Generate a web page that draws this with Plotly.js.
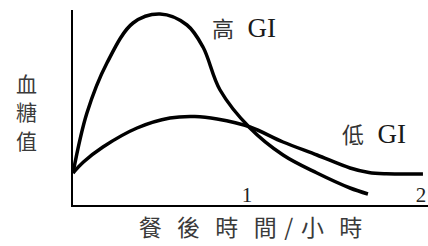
<!DOCTYPE html>
<html><head><meta charset="utf-8">
<script src="https://cdn.plot.ly/plotly-3.0.1.min.js"></script>
<style>html,body{margin:0;padding:0;background:#fff}#chart{width:428px;height:246px}</style>
</head><body><div id="chart"></div>
<script>
const highT = [0, 0.08, 0.195, 0.345, 0.50, 0.655, 0.747, 0.845, 1.017, 1.207, 1.402, 1.592, 1.695];
const highV = [3.2, 9.2, 14.2, 18.2, 19.1, 18.0, 15.8, 11.5, 7.7, 5.0, 3.2, 1.7, 1.1];
const lowT = [0, 0.06, 0.172, 0.368, 0.557, 0.70, 0.828, 1.017, 1.207, 1.402, 1.592, 1.70, 1.80, 2.011];
const lowV = [3.2, 4.3, 5.8, 7.7, 8.7, 8.85, 8.6, 7.8, 6.3, 5.0, 3.7, 3.25, 3.12, 3.1];
const tickVals = [1, 2];
const tickText = ['1', '2'];
const seriesNames = ['高', '低'];
const yLabelChars = ['血', '糖', '值'];

const traces = [
  {x: highT, y: highV, name: seriesNames[0] + ' GI', mode: 'lines', line: {color: '#000', width: 3.5, shape: 'spline', smoothing: 1}, cliponaxis: false},
  {x: lowT, y: lowV, name: seriesNames[1] + ' GI', mode: 'lines', line: {color: '#000', width: 3.5, shape: 'spline', smoothing: 1}, cliponaxis: false}
];
const serif = 'Liberation Serif';
const cjk = 'Noto Sans CJK TC';
const sp = '\u2004\u2004';
const yCenters = [0.627, 0.483, 0.333];
const annotations = yLabelChars.map((c, i) => ({
  xref: 'paper', yref: 'paper', x: -0.132, y: yCenters[i], text: c, showarrow: false,
  font: {family: cjk, size: 21, color: '#3a3a3a'}, xanchor: 'center', yanchor: 'middle'
}));
annotations.push(
  {xref: 'x', yref: 'y', x: 0.79, y: 17.8, text: '<span style="font-family:Noto Sans CJK TC;font-size:22px;color:#333">' + seriesNames[0] + '</span>\u2002GI', showarrow: false, xanchor: 'left', yanchor: 'middle',
   font: {family: serif, size: 27, color: '#1a1a1a'}},
  {xref: 'x', yref: 'y', x: 1.535, y: 7.2, text: '<span style="font-family:Noto Sans CJK TC;font-size:22px;color:#333">' + seriesNames[1] + '</span>\u2002GI', showarrow: false, xanchor: 'left', yanchor: 'middle',
   font: {family: serif, size: 27, color: '#1a1a1a'}}
);
const layout = {
  width: 428, height: 246,
  margin: {l: 73, r: 0, t: 10, b: 41},
  paper_bgcolor: '#fff', plot_bgcolor: '#fff',
  showlegend: false,
  xaxis: {range: [0, 2.04], showgrid: false, zeroline: false, showline: true, linecolor: '#000', linewidth: 2,
    tickvals: tickVals, ticktext: tickText, ticks: '', ticklabelposition: 'inside', ticklabeloverflow: 'allow',
    tickfont: {family: serif, size: 21, color: '#222'},
    title: {text: ['餐','後','時','間'].join(sp) + '\u2004/\u2004' + ['小','時'].join(sp),
      font: {family: cjk, size: 23, color: '#3a3a3a'}, standoff: 14}},
  yaxis: {range: [0, 19.5], showgrid: false, zeroline: false, showline: true, linecolor: '#000', linewidth: 2,
    showticklabels: false, ticks: ''},
  annotations: annotations
};
Plotly.newPlot('chart', traces, layout, {staticPlot: true, displayModeBar: false});
</script></body></html>
